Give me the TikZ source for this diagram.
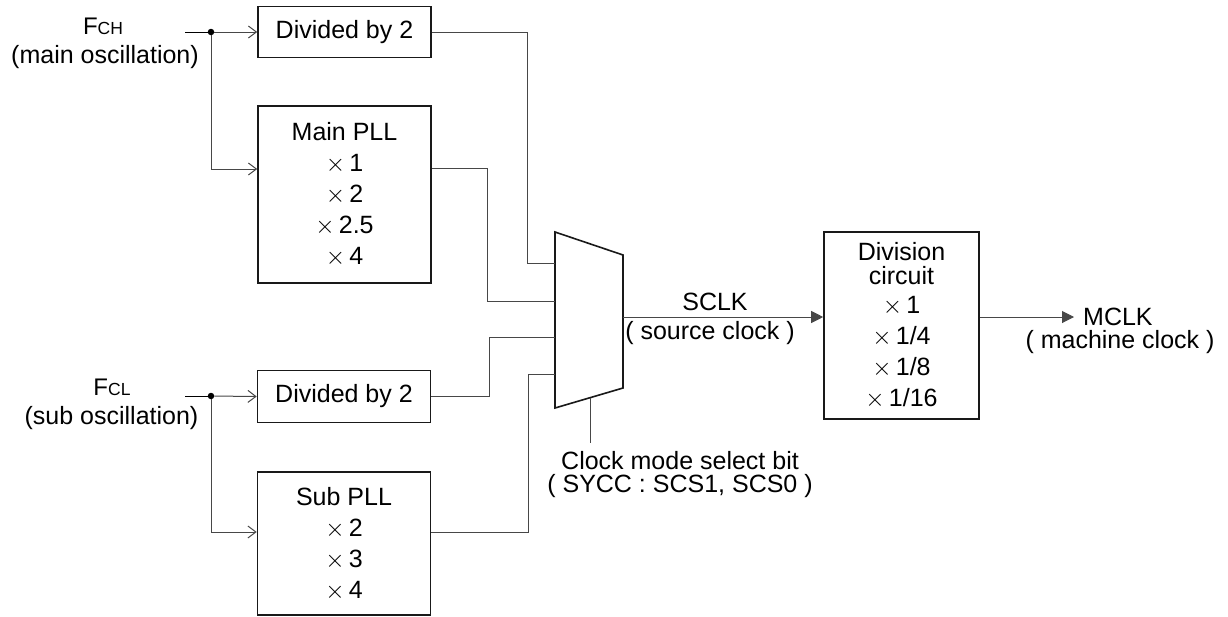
\documentclass[tikz,border=0pt]{standalone}
\usepackage{fontspec}
\setmainfont{Liberation Sans}
\usetikzlibrary{arrows.meta,calc}
\newcommand{\fsz}{\fontsize{25}{31}\selectfont}
\newcommand{\tms}{$\times$\,}
\newcommand{\fsym}[1]{{\fontsize{24}{25}\selectfont F\fontsize{17.5}{18}\selectfont #1}}
\begin{document}
\begin{tikzpicture}[x=1pt,y=-1pt,
  blk/.style={draw=black!90,line width=1.6pt,minimum width=173pt,inner sep=0pt,align=center,font=\fsz},
  wire/.style={draw=black!72,line width=1pt},
  openarr/.style={wire,-{Straight Barb[length=8pt,width=12pt]}},
  fillarr/.style={wire,-{Triangle[length=12pt,width=12pt]}},
  lbl/.style={inner sep=0pt,font=\fsz},
  dotc/.style={circle,fill=black,inner sep=0pt,minimum size=6.5pt}
]
\useasboundingbox (0,0) rectangle (1228,616);

% boxes
\node[blk,minimum height=51pt] (d1) at (344.5,32) {Divided by 2};
\node[blk,minimum height=177pt] (pll) at (344.5,194.5) {Main PLL\\\tms1\\\tms2\\\tms2.5\\\tms4};
\node[blk,minimum height=52pt] (d2) at (344,396.5) {Divided by 2};
\node[blk,minimum height=143pt] (sub) at (344,543.5) {Sub PLL\\\tms2\\\tms3\\\tms4};
\node[blk,minimum width=155pt,minimum height=187pt] (div) at (901.5,325.5) {Division\\[-7pt]circuit\\[-2pt]\tms1\\\tms1/4\\\tms1/8\\\tms1/16};

% multiplexer
\coordinate (mtl) at (555,232);
\coordinate (mtr) at (623,255);
\coordinate (mbr) at (623,388);
\coordinate (mbl) at (555,408);
\draw[black!90,line width=1.6pt,line join=miter] (mtl) -- (mtr) -- (mbr) -- (mbl) -- cycle;
\coordinate (mi1) at (555,263);
\coordinate (mi2) at (555,301);
\coordinate (mi3) at (555,337);
\coordinate (mi4) at (555,374);
\coordinate (mo) at (623,317);
\coordinate (msel) at (590,397.7);
\coordinate (selend) at (590,443);

% inputs
\node[lbl] (fch) at (103,26) {\fsym{CH}};
\node[lbl] (fchs) at (105,57) {(main oscillation)};
\node[lbl] (fcl) at (112,387) {\fsym{CL}};
\node[lbl] (fcls) at (111.5,418) {(sub oscillation)};

\coordinate (inA) at (185,32);
\node[dotc] (jA) at (211,32) {};
\draw[wire,black] (inA) -- (jA);
\draw[openarr] (jA) -- (d1.west);
\draw[openarr] (jA) |- ([yshift=25.5pt]pll.west);

\coordinate (inB) at (185,396);
\node[dotc] (jB) at (211,396) {};
\draw[wire,black] (inB) -- (jB);
\draw[openarr] (jB) -- (d2.west);
\draw[openarr] (jB) |- ([yshift=11.5pt]sub.west);

% to mux
\draw[wire] (d1.east) -- ++(96,0) |- (mi1);
\draw[wire] ([yshift=26.5pt]pll.east) -- ++(56,0) |- (mi2);
\draw[wire] (d2.east) -- ++(58,0) |- (mi3);
\draw[wire] ([yshift=11.5pt]sub.east) -- ++(97,0) |- (mi4);

% output
\draw[fillarr] (mo) -- ([yshift=8.5pt]div.west);
\node[lbl] (sclk) at (715,302) {SCLK};
\node[lbl] (src) at (710,333) {( source clock )};

\coordinate (mend) at (1074,317);
\draw[fillarr] ([yshift=8.5pt]div.east) -- (mend);
\node[lbl,anchor=west] (mclk) at (1083,317) {MCLK};
\node[lbl] (mc2) at (1120,342) {( machine clock )};

% select
\draw[wire] (msel) -- (selend);
\node[lbl] (cms) at (680,461) {Clock mode select bit};
\node[lbl] (sycc) at (680,486) {( SYCC : SCS1, SCS0 )};
\end{tikzpicture}
\end{document}
